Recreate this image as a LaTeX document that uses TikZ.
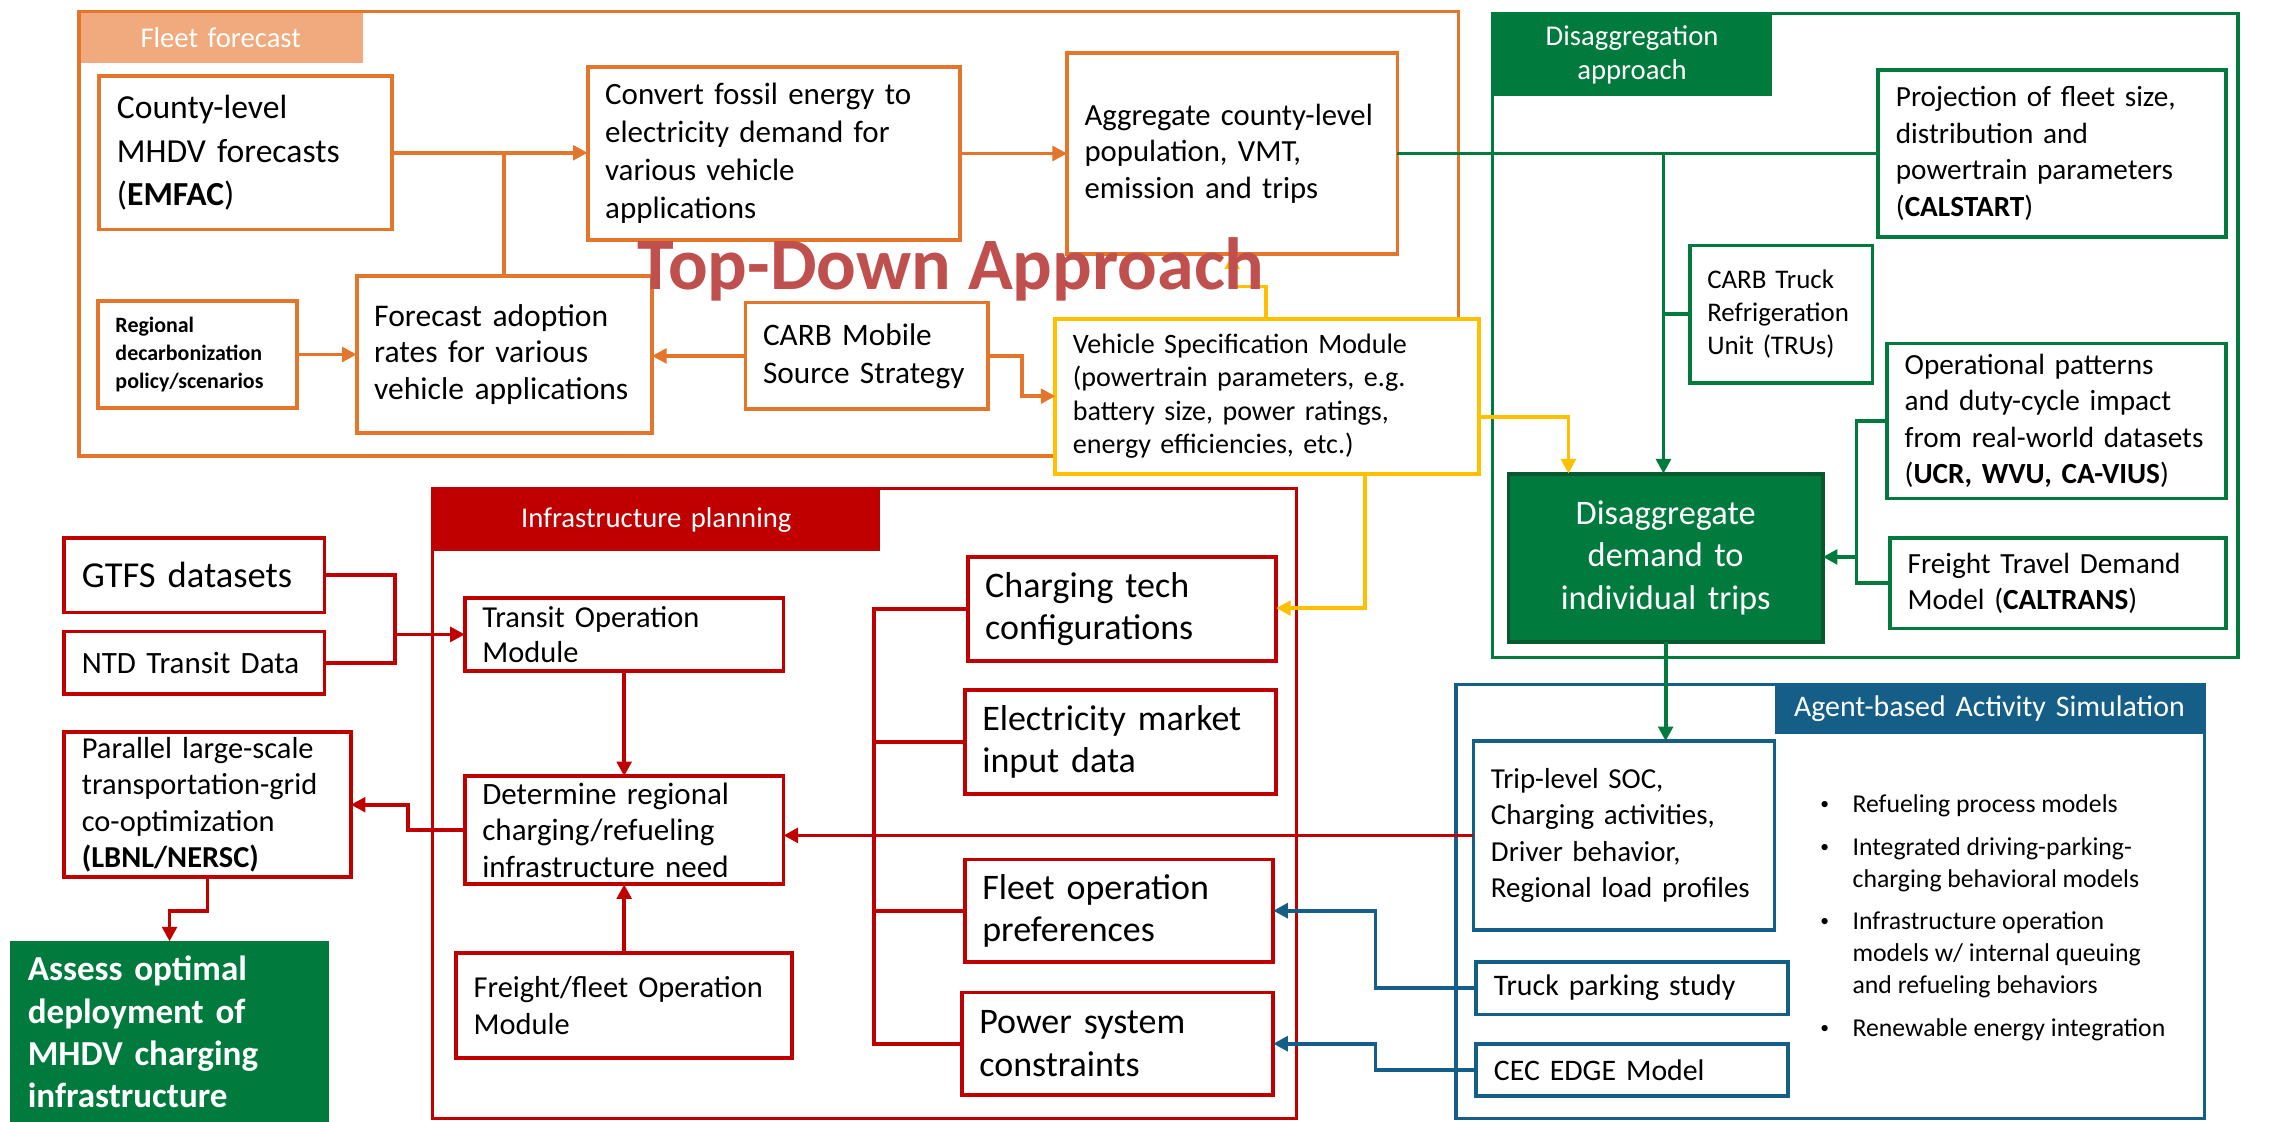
\documentclass[tikz,border=0pt]{standalone}
\usepackage{fontspec}
\setmainfont{Carlito}
\usetikzlibrary{arrows.meta}
\hyphenpenalty=10000
\exhyphenpenalty=10000

\definecolor{cOr}{RGB}{227,118,42}
\definecolor{cOrL}{RGB}{240,170,125}
\definecolor{cGr}{RGB}{0,122,61}
\definecolor{cGrD}{RGB}{12,88,46}
\definecolor{cRd}{RGB}{192,0,0}
\definecolor{cBl}{RGB}{20,94,136}
\definecolor{cYe}{RGB}{255,192,0}
\definecolor{cTD}{RGB}{192,80,77}

% font size / baselineskip in pt
\newcommand\fs[2]{\fontsize{#1pt}{#2pt}\selectfont}
% small list bullet
\newcommand\lbul{\raisebox{1pt}{\fs{6}{6}•}}
% box from (x1,y1) to (x2,y2): style, name, x1, y1, x2, y2, text
\newcommand\placebox[7]{%
  \pgfmathsetmacro\pbw{(#5-#3)/2}%
  \pgfmathsetmacro\pbh{(#6-#4)/2}%
  \pgfmathsetmacro\pbt{(#5-#3)/2-12}%
  \node[#1, minimum width=\pbw pt, minimum height=\pbh pt, text width=\pbt pt] (#2) at (#3,#4) {#7};%
}

\begin{document}
\begin{tikzpicture}[x=0.5pt,y=-0.5pt,
  plainbox/.style={rectangle, anchor=north west, align=left, inner xsep=6pt, inner ysep=0pt, outer sep=0pt, fill=white, line width=1.3pt},
  ob/.style={plainbox, draw=cOr},
  yb/.style={plainbox, draw=cYe},
  gb/.style={plainbox, draw=cGr},
  rb/.style={plainbox, draw=cRd},
  bb/.style={plainbox, draw=cBl},
  gsolid/.style={plainbox, fill=cGr, text=white},
  framebox/.style={rectangle, anchor=north west, inner xsep=6pt, inner ysep=0pt, outer sep=0pt, line width=1.1pt},
  tabbox/.style={rectangle, anchor=north west, inner xsep=6pt, inner ysep=0pt, outer sep=0pt, align=center, text=white},
  wire/.style={line width=1.3pt},
  arrtip/.style={-{Triangle[length=5pt,width=5pt]}},
  owire/.style={wire, draw=cOr}, oarr/.style={owire, arrtip},
  ywire/.style={wire, draw=cYe}, yarr/.style={ywire, arrtip},
  gwire/.style={wire, draw=cGr}, garr/.style={gwire, arrtip},
  rwire/.style={wire, draw=cRd}, rarr/.style={rwire, arrtip},
  bwire/.style={wire, draw=cBl}, barr/.style={bwire, arrtip},
]
\path[use as bounding box, fill=white] (0,0) rectangle (1568,767);

% ---------- section tabs ----------
\placebox{tabbox, fill=cOrL, font=\fs{9.8}{11}}{fleetT}{54}{8}{248}{43}{Fleet forecast}
\placebox{tabbox, fill=cGr, font=\fs{9.8}{11.5}}{disT}{1021}{9}{1212}{66}{Disaggregation\\approach}
\placebox{tabbox, fill=cRd, font=\fs{9.8}{11}}{infT}{296}{334}{602}{377}{Infrastructure planning}
\placebox{tabbox, fill=cBl, font=\fs{10.2}{11}}{agtT}{1214}{468}{1508}{502}{Agent-based Activity Simulation}

% ---------- section frames ----------
\placebox{framebox, draw=cOr}{fleetF}{54}{8}{998}{312}{}
\placebox{framebox, draw=cGr}{disF}{1021}{9}{1531}{450}{}
\placebox{framebox, draw=cRd}{infF}{296}{334}{887}{765}{}
\placebox{framebox, draw=cBl}{agtF}{996}{468}{1508}{765}{}

% ---------- fleet forecast ----------
\placebox{ob, font=\fs{11.5}{15}}{county}{68}{52}{268}{157}{County-level\\MHDV forecasts\\(\textbf{EMFAC})}
\placebox{ob, font=\fs{10.6}{13}}{convert}{402}{46}{657}{164}{Convert fossil energy to\\electricity demand for\\various vehicle\\applications}
\placebox{ob, font=\fs{10.5}{12.5}}{agg}{730}{36}{956}{174}{Aggregate county-level\\population, VMT,\\emission and trips}
\placebox{ob, font=\fs{10.8}{12.5}}{forecast}{244}{189}{446}{296}{Forecast adoption\\rates for various\\vehicle applications}
\placebox{ob, font=\bfseries\fs{7.5}{9.5}}{regional}{67}{206}{203}{279}{Regional\\decarbonization\\policy/scenarios}
\placebox{ob, font=\fs{10.7}{13}}{carb}{510}{207}{676}{280}{CARB Mobile\\Source Strategy}
\placebox{yb, font=\fs{9.6}{11.5}}{vehicle}{722}{218}{1012}{324}{Vehicle Specification Module\\(powertrain parameters, e.g.\\battery size, power ratings,\\energy efficiencies, etc.)}

% ---------- disaggregation ----------
\placebox{gb, font=\fs{10}{12.5}}{proj}{1285}{48}{1523}{162}{Projection of fleet size,\\distribution and\\powertrain parameters\\(\textbf{CALSTART})}
\placebox{gb, font=\fs{9.2}{11.3}}{tru}{1156}{168}{1281}{262}{CARB Truck\\Refrigeration\\Unit (TRUs)}
\placebox{gb, font=\fs{10}{12.5}}{oper}{1291}{235}{1523}{341}{Operational patterns\\and duty-cycle impact\\from real-world datasets\\(\textbf{UCR, WVU, CA-VIUS})}
\placebox{gb, font=\fs{10}{12.5}}{freight}{1293}{368}{1523}{430}{Freight Travel Demand\\Model (\textbf{CALTRANS})}
\placebox{gsolid, draw=cGrD, align=center, font=\fs{11.75}{14.5}}{disagg}{1032}{324}{1247}{439}{Disaggregate\\demand to\\individual trips}

% ---------- infrastructure planning ----------
\placebox{rb, font=\fs{12.5}{15}}{gtfs}{44}{368}{222}{419}{GTFS datasets}
\placebox{rb, font=\fs{10.6}{13}}{ntd}{44}{432}{222}{475}{NTD Transit Data}
\placebox{rb, font=\fs{10.4}{12.5}}{parallel}{44}{501}{240}{600}{Parallel large-scale\\transportation-grid\\co-optimization\\\textbf{(LBNL/NERSC)}}
\placebox{gsolid, font=\bfseries\fs{12}{14.5}}{assess}{7}{644}{225}{768}{Assess optimal\\deployment of\\MHDV charging\\infrastructure}
\placebox{rb, font=\fs{10.4}{12}}{transit}{318}{409}{536}{459}{Transit Operation\\Module}
\placebox{rb, font=\fs{10.6}{12.5}}{determine}{318}{531}{536}{605}{Determine regional\\charging/refueling\\infrastructure need}
\placebox{rb, font=\fs{10.4}{12.5}}{ffleet}{312}{652}{542}{724}{Freight/fleet Operation\\Module}
\placebox{rb, font=\fs{12.3}{14.5}}{charging}{662}{381}{873}{452}{Charging tech\\configurations}
\placebox{rb, font=\fs{12.3}{14.5}}{elec}{660}{472}{873}{543}{Electricity market\\input data}
\placebox{rb, font=\fs{12.3}{14.5}}{fleetop}{660}{588}{871}{658}{Fleet operation\\preferences}
\placebox{rb, font=\fs{12.3}{14.5}}{power}{658}{679}{871}{749}{Power system\\constraints}

% ---------- agent-based simulation ----------
\placebox{bb, font=\fs{9.9}{12.5}}{trip}{1008}{507}{1214}{636}{Trip-level SOC,\\Charging activities,\\Driver behavior,\\Regional load profiles}
\placebox{bb, font=\fs{10.2}{12}}{truck}{1010}{658}{1223}{694}{Truck parking study}
\placebox{bb, font=\fs{10.2}{12}}{cec}{1010}{714}{1223}{750}{CEC EDGE Model}
\node[anchor=base west, inner sep=0pt, font=\fs{8.8}{11}] (bullets) at (1245,556) {%
\begin{tabular}[t]{@{}p{11pt}@{}l@{}}
\lbul & Refueling process models \\[3.5pt]
\lbul & Integrated driving-parking- \\
      & charging behavioral models \\[3.5pt]
\lbul & Infrastructure operation \\
      & models w/ internal queuing \\
      & and refueling behaviors \\[3.5pt]
\lbul & Renewable energy integration
\end{tabular}};

% ---------- connectors: fleet forecast ----------
\draw[oarr] (county.east) -- (county.east -| convert.west);
\draw[owire] (forecast.north) -- (forecast.north |- county.east);
\draw[oarr] (convert.east) -- (convert.east -| agg.west);
\draw[oarr] (regional.east) -- (regional.east -| forecast.west);
\draw[oarr] (carb.west) -- (carb.west -| forecast.east);
\draw[oarr] (carb.east) -- ++(23,0) |- (vehicle.west);

% ---------- connectors: vehicle specification ----------
\coordinate (ybend) at (866,196);
\draw[yarr] (ybend |- vehicle.north) -- (ybend) -| (agg.south);
\coordinate (yright) at (1073,285);
\draw[yarr] (yright -| vehicle.east) -- (yright) -- (yright |- disagg.north);
\coordinate (ydown) at (934,416);
\draw[yarr] (ydown |- vehicle.south) -- (ydown) -- (ydown -| charging.east);

% ---------- connectors: disaggregation ----------
\draw[gwire] (agg.east) -- (agg.east -| proj.west);
\coordinate (gv) at (1138,105);
\draw[garr] (gv) -- (gv |- disagg.north);
\draw[gwire] (tru.west) -- (tru.west -| gv);
\coordinate (gr) at (1270,381);
\draw[gwire] (oper.west) -| (gr);
\draw[gwire] (freight.west) -| (gr);
\draw[garr] (gr) -- (gr -| disagg.east);
\draw[garr] (disagg.south) -- (disagg.south |- trip.north);

% ---------- connectors: infrastructure planning ----------
\coordinate (rj) at (270,434);
\draw[rwire] (gtfs.east) -| (rj);
\draw[rwire] (ntd.east) -| (rj);
\draw[rarr] (rj) -- (rj -| transit.west);
\draw[rarr] (transit.south) -- (determine.north);
\draw[rarr] (ffleet.north) -- (ffleet.north |- determine.south);
\draw[rarr] (determine.west) -- ++(-39,0) |- (parallel.east);
\coordinate (rp) at (142,623);
\draw[rarr] (parallel.south) -- (rp) -| (assess.north);
\coordinate (bus) at (598,0);
\draw[rwire] (charging.west) -- (charging.west -| bus) -- (power.west -| bus) -- (power.west);
\draw[rwire] (elec.west) -- (elec.west -| bus);
\draw[rwire] (fleetop.west) -- (fleetop.west -| bus);
\draw[rarr] (trip.west) -- (trip.west -| determine.east);

% ---------- connectors: agent-based inputs ----------
\coordinate (bv) at (941,0);
\draw[barr] (truck.west) -- (truck.west -| bv) |- (fleetop.east);
\draw[barr] (cec.west) -- (cec.west -| bv) |- (power.east);

% ---------- overlay title ----------
\node[anchor=base west, inner sep=0pt, font=\bfseries\fs{25.3}{28}, text=cTD] (topdown) at (436,198) {Top-Down Approach};
\end{tikzpicture}
\end{document}
